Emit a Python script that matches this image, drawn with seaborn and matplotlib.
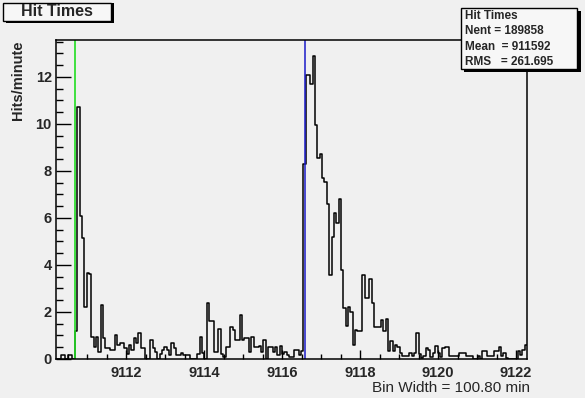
# Import everything --------------------------------------------------------------------
import numpy as np
import pandas as pd
import matplotlib
matplotlib.use('Agg')
import matplotlib.pyplot as plt
import seaborn as sns
from matplotlib.patches import Rectangle
from matplotlib.ticker import MultipleLocator
# END-------------------------------------------------------------------------------------


# DATA -----------------------------------------------------------------------------------
# histogram range (axis units) and bin contents (Hits/minute)
x_min = 9110.205
x_max = 9122.28
n_bins = 200
hits_per_minute = [
    0, 0, 0.17, 0.17, 0, 0.17, 0.17, 0, 1.2, 10.7,
    6.1, 5.15, 2.2, 3.65, 3.6, 0.94, 0.5, 0.94, 0.3, 2.3,
    0.9, 0.45, 0.45, 0.4, 0.4, 1.0, 0.6, 0.7, 0.7, 0.45,
    0.2, 0.6, 0.4, 0.9, 0.7, 1.1, 0.45, 0.45, 0, 0,
    0.8, 0.45, 0.3, 0, 0.2, 0.4, 0.5, 0.4, 0.15, 0.7,
    0.45, 0.15, 0.15, 0.25, 0.17, 0.17, 0.15, 0, 0, 0,
    0.2, 0.94, 0.25, 0, 2.4, 1.6, 1.6, 0.3, 0.3, 1.27,
    0.2, 0.1, 0.5, 0.5, 1.35, 1.25, 0.8, 0.8, 1.87, 0.8,
    0.9, 0.9, 0.3, 0.95, 0.5, 0.5, 0.55, 0.3, 0.8, 0,
    0.5, 0.5, 0.3, 0.5, 0.15, 0.55, 0.2, 0.3, 0.15, 0.1,
    0.1, 0.38, 0.38, 0.15, 0.35, 8.3, 12.1, 12.1, 11.7, 12.9,
    9.95, 8.55, 8.7, 7.7, 7.55, 6.6, 3.57, 5.2, 6.2, 5.8,
    6.8, 3.8, 2.17, 1.4, 2.2, 2.0, 0.6, 1.23, 1.2, 1.2,
    3.57, 2.6, 2.6, 3.4, 2.4, 1.36, 1.36, 1.36, 1.66, 1.2,
    1.72, 0.33, 0.75, 0.33, 0.6, 0.5, 0.25, 0.11, 0.11, 0.11,
    0.25, 0.11, 0.25, 1.1, 0.2, 0.05, 0.14, 0.47, 0.4, 0.1,
    0.25, 0.54, 0.25, 0.08, 0.47, 0.5, 0.5, 0.14, 0.11, 0.11,
    0.11, 0.25, 0.25, 0.25, 0.11, 0.11, 0.11, 0, 0, 0.14,
    0, 0.33, 0.33, 0.11, 0.14, 0.11, 0.33, 0.33, 0.5, 0.14,
    0.25, 0.04, 0, 0, 0, 0, 0.33, 0.19, 0.4, 0.6,
]
# marker lines
green_line_x = 9110.69
blue_line_x = 9116.59
# stats box texts
stats_lines = ['Hit Times', 'Nent = 189858', 'Mean  = 911592', 'RMS   = 261.695']
# END data -------------------------------------------------------------------------------


# DATAFRAME ------------------------------------------------------------------------------
edges = np.linspace(x_min, x_max, n_bins + 1)
df = pd.DataFrame({'time': (edges[:-1] + edges[1:]) / 2, 'rate': hits_per_minute})
# END -------------------------------------------------------------------------------------


# STYLE ----------------------------------------------------------------------------------
bg = '#f0f0f0'
sns.set_style('ticks')
plt.rcParams['font.family'] = ['Liberation Sans', 'DejaVu Sans']

W, H = 585, 398
fig = plt.figure(figsize=(W / 100, H / 100), dpi=100, facecolor=bg)

def fx(x):
    return x / W

def fy(y):
    return 1 - y / H

# frame goes from (56,40) to (527,359) in pixels
ax = fig.add_axes([fx(56), fy(359), fx(527) - fx(56), fy(40) - fy(359)])
ax.set_facecolor(bg)
# END -------------------------------------------------------------------------------------


# HISTOGRAM ------------------------------------------------------------------------------
sns.histplot(data=df, x='time', weights='rate', bins=n_bins, binrange=(x_min, x_max),
             element='step', fill=False, color='black', linewidth=1.1, ax=ax)
ax.axvline(green_line_x, color='#22dd22', linewidth=1.2)
ax.axvline(blue_line_x, color='#1a1ac8', linewidth=1.1)

ax.set_xlim(x_min, x_max)
ax.set_ylim(0, 13.57)
ax.set_xlabel('')
ax.set_ylabel('')

ax.xaxis.set_major_locator(MultipleLocator(2))
ax.xaxis.set_minor_locator(MultipleLocator(0.5))
ax.yaxis.set_major_locator(MultipleLocator(2))
ax.yaxis.set_minor_locator(MultipleLocator(0.5))
ax.tick_params(axis='both', which='both', direction='in', color='black', width=1)
ax.tick_params(axis='x', which='major', length=6.5, pad=5, labelsize=10.5)
ax.tick_params(axis='x', which='minor', length=3.5)
ax.tick_params(axis='y', which='major', length=10.5, pad=3, labelsize=10.5)
ax.tick_params(axis='y', which='minor', length=5)
for lab in ax.get_xticklabels() + ax.get_yticklabels():
    lab.set_fontweight('bold')
for side in ax.spines.values():
    side.set_color('black')
    side.set_linewidth(1.1)
# END -------------------------------------------------------------------------------------


# TEXT AND BOXES -------------------------------------------------------------------------
fig.text(fx(18.5), fy(40), 'Hits/minute', rotation=90, ha='center', va='top',
         fontsize=10.5, fontweight='bold')
fig.text(fx(530), fy(387.5), 'Bin Width = 100.80 min', ha='right', va='center',
         fontsize=11)

# title box with shadow
fig.add_artist(Rectangle((fx(6), fy(23)), fx(108), fy(0) - fy(20), transform=fig.transFigure,
                         facecolor='black', edgecolor='none', zorder=5))
fig.add_artist(Rectangle((fx(3), fy(21)), fx(108), fy(0) - fy(18), transform=fig.transFigure,
                         facecolor='#f7f7f7', edgecolor='black', linewidth=1, zorder=6))
fig.text(fx(57), fy(12), 'Hit Times', ha='center', va='center', fontsize=11.5,
         fontweight='bold', zorder=7)

# stats box with shadow
fig.add_artist(Rectangle((fx(464), fy(72)), fx(117), fy(0) - fy(61), transform=fig.transFigure,
                         facecolor='black', edgecolor='none', zorder=5))
fig.add_artist(Rectangle((fx(461), fy(69)), fx(116), fy(0) - fy(61), transform=fig.transFigure,
                         facecolor='#f7f7f7', edgecolor='black', linewidth=1, zorder=6))
for i, line in enumerate(stats_lines):
    fig.text(fx(465), fy(16 + 15.3 * i), line, ha='left', va='center', fontsize=8.5,
             fontweight='bold', zorder=7)
# END -------------------------------------------------------------------------------------

fig.savefig('out.png', dpi=100, facecolor=bg)
